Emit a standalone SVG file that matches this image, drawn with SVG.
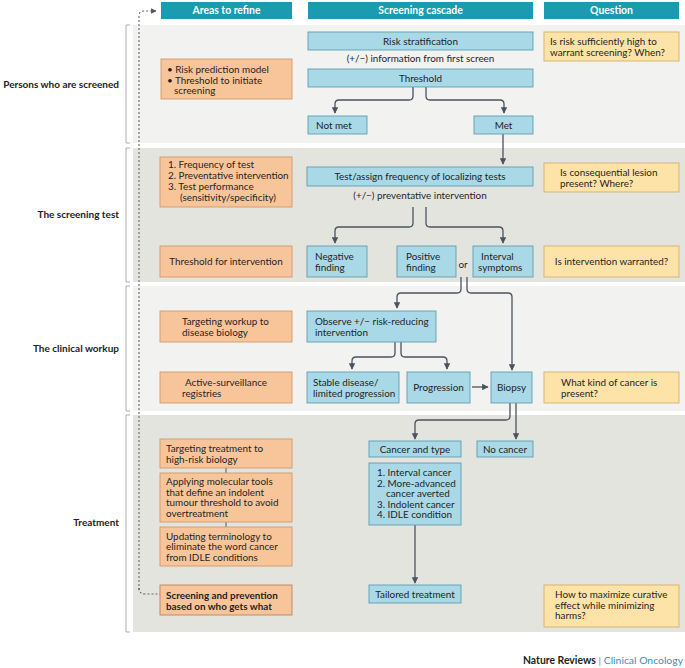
<svg xmlns="http://www.w3.org/2000/svg" width="685" height="668" viewBox="0 0 685 668">
<defs>
<style>
text{font-family:Lato,"Open Sans","Liberation Sans",sans-serif;font-size:9.9px;fill:#1f1f1f}
.hd{fill:#1a9bb1}
.hdt{fill:#fff;font-weight:bold;font-size:10.4px;text-anchor:middle}
.b1{fill:#f2f2f0}
.b2{fill:#e4e4df}
.bl{fill:#a9d8e6;stroke:#5f9db2;stroke-width:0.9}
.or{fill:#f8c59b;stroke:#cf9a6c;stroke-width:0.9}
.ye{fill:#fde3a8;stroke:#d3b16e;stroke-width:0.9}
.c{text-anchor:middle}
.lab{font-weight:bold;font-size:10px;text-anchor:end;fill:#222}
.br{fill:none;stroke:#9a9a9a;stroke-width:0.8}
.cn path,.cn line{fill:none;stroke:#4a5360;stroke-width:1.3}
.dash{fill:none;stroke:#666;stroke-width:1.1;stroke-dasharray:2,2}
</style>
<marker id="ah" viewBox="0 0 10 10" refX="9" refY="5" markerWidth="5" markerHeight="5" orient="auto">
<path d="M0,0 L10,5 L0,10 z" fill="#4a5360"/>
</marker>
<marker id="ahd" viewBox="0 0 10 10" refX="9" refY="5" markerWidth="5" markerHeight="5" orient="auto">
<path d="M0,0 L10,5 L0,10 z" fill="#555"/>
</marker>
</defs>

<!-- bands -->
<g id="bands">
<rect class="b1" x="133" y="25" width="552" height="118"/>
<rect class="b2" x="133" y="148" width="552" height="134"/>
<rect class="b1" x="133" y="286" width="552" height="125"/>
<rect class="b2" x="133" y="415" width="552" height="217"/>
<path class="br" d="M130,25 H126 V143 H130"/>
<path class="br" d="M130,148 H126 V282 H130"/>
<path class="br" d="M130,286 H126 V411 H130"/>
<path class="br" d="M130,415 H126 V632 H130"/>
<text class="lab" x="119" y="87.5">Persons who are screened</text>
<text class="lab" x="119" y="218">The screening test</text>
<text class="lab" x="119" y="352">The clinical workup</text>
<text class="lab" x="119" y="526">Treatment</text>
</g>

<!-- headers -->
<g id="hdr-areas"><rect class="hd" x="161" y="2" width="131" height="17"/><text class="hdt" x="226.5" y="14">Areas to refine</text></g>
<g id="hdr-cascade"><rect class="hd" x="308" y="2" width="225" height="17"/><text class="hdt" x="420.5" y="14">Screening cascade</text></g>
<g id="hdr-question"><rect class="hd" x="544" y="2" width="135" height="17"/><text class="hdt" x="611.5" y="14">Question</text></g>

<!-- connectors -->
<g id="connectors" class="cn">
<path d="M413,87 V96 Q413,100 409,100 H339 Q335,100 335,104 V113" marker-end="url(#ah)"/>
<path d="M426,87 V96 Q426,100 430,100 H500 Q504,100 504,104 V113" marker-end="url(#ah)"/>
<path d="M503,134 V164" marker-end="url(#ah)"/>
<path d="M413,207 V223 Q413,227 409,227 H339 Q335,227 335,231 V243" marker-end="url(#ah)"/>
<path d="M426,207 V223 Q426,227 430,227 H499 Q503,227 503,231 V243" marker-end="url(#ah)"/>
<path d="M461,277 V289 Q461,293 457,293 H401 Q397,293 397,297 V308" marker-end="url(#ah)"/>
<path d="M467,277 V289 Q467,293 471,293 H508 Q512,293 512,297 V370" marker-end="url(#ah)"/>
<path d="M395,342 V353 Q395,357 391,357 H356 Q352,357 352,361 V369" marker-end="url(#ah)"/>
<path d="M401,342 V353 Q401,357 405,357 H443 Q447,357 447,361 V369" marker-end="url(#ah)"/>
<path d="M472,387 H488" marker-end="url(#ah)"/>
<path d="M510,403 V416 Q510,420 506,420 H419 Q415,420 415,424 V439" marker-end="url(#ah)"/>
<path d="M516,403 V439" marker-end="url(#ah)"/>
<path d="M415,525 V583" marker-end="url(#ah)"/>
<line x1="226" y1="468" x2="226" y2="473" style="stroke-width:1"/>
<line x1="226" y1="522" x2="226" y2="527" style="stroke-width:1"/>
<path class="dash" style="stroke:#666;stroke-width:1.1" d="M139,590 V16 Q139,11 144,11 H156" marker-end="url(#ahd)"/>
<path class="dash" style="stroke:#666;stroke-width:1.1" d="M139,588 Q139,594 145,594 H160"/>
</g>

<!-- band 1 -->
<g id="risk-strat"><rect class="bl" x="308" y="32" width="225" height="18"/><text class="c" x="420.5" y="44.5">Risk stratification</text></g>
<g id="info-first"><text class="c" x="420.5" y="62">(+/−) information from first screen</text></g>
<g id="threshold"><rect class="bl" x="308" y="69" width="225" height="18"/><text class="c" x="420.5" y="81.5">Threshold</text></g>
<g id="not-met"><rect class="bl" x="308" y="116" width="59" height="18"/><text x="316" y="128.5">Not met</text></g>
<g id="met"><rect class="bl" x="474" y="116" width="59" height="18"/><text class="c" x="503.5" y="128.5">Met</text></g>
<g id="area-1"><rect class="or" x="161" y="59" width="131" height="40"/>
<text x="167" y="73">• Risk prediction model</text>
<text x="167" y="83.5">• Threshold to initiate</text>
<text x="174" y="94">screening</text></g>
<g id="q-1"><rect class="ye" x="544" y="32" width="135" height="29"/>
<text x="550" y="45">Is risk sufficiently high to</text>
<text x="550" y="56">warrant screening? When?</text></g>

<!-- band 2 -->
<g id="area-2"><rect class="or" x="160" y="157" width="132" height="50"/>
<text x="168" y="168">1. Frequency of test</text>
<text x="168" y="179">2. Preventative intervention</text>
<text x="168" y="190">3. Test performance</text>
<text x="180" y="201">(sensitivity/specificity)</text></g>
<g id="test-assign"><rect class="bl" x="307" y="167" width="226" height="19"/><text class="c" x="420" y="180">Test/assign frequency of localizing tests</text></g>
<g id="prev-int"><text class="c" x="420" y="199">(+/−) preventative intervention</text></g>
<g id="q-2"><rect class="ye" x="544" y="163" width="135" height="29"/>
<text x="560" y="176">Is consequential lesion</text>
<text x="560" y="187">present? Where?</text></g>
<g id="area-3"><rect class="or" x="160" y="246" width="132" height="31"/><text class="c" x="226" y="264.5">Threshold for intervention</text></g>
<g id="neg"><rect class="bl" x="307" y="246" width="60" height="31"/><text x="315" y="259.5">Negative</text><text x="315" y="270.5">finding</text></g>
<g id="pos"><rect class="bl" x="397" y="246" width="59" height="31"/><text x="406" y="259.5">Positive</text><text x="406" y="270.5">finding</text></g>
<text class="c" x="463" y="268">or</text>
<g id="interval"><rect class="bl" x="473" y="246" width="60" height="31"/><text x="481" y="259.5">Interval</text><text x="478" y="270.5">symptoms</text></g>
<g id="q-3"><rect class="ye" x="544" y="246" width="135" height="31"/><text class="c" x="611.5" y="264.5">Is intervention warranted?</text></g>

<!-- band 3 -->
<g id="area-4"><rect class="or" x="160" y="311" width="132" height="31"/><text x="182" y="324.5">Targeting workup to</text><text x="182" y="335.5">disease biology</text></g>
<g id="observe"><rect class="bl" x="307" y="311" width="129" height="31"/><text x="315" y="324.5">Observe +/− risk-reducing</text><text x="315" y="335.5">intervention</text></g>
<g id="area-5"><rect class="or" x="160" y="372" width="132" height="31"/><text x="185" y="385.5">Active-surveillance</text><text x="182" y="396.5">registries</text></g>
<g id="stable"><rect class="bl" x="307" y="372" width="92" height="31"/><text x="313" y="385.5">Stable disease/</text><text x="313" y="396.5">limited progression</text></g>
<g id="progression"><rect class="bl" x="407" y="372" width="63" height="31"/><text class="c" x="438.5" y="390.5">Progression</text></g>
<g id="biopsy"><rect class="bl" x="491" y="372" width="41" height="31"/><text class="c" x="511.5" y="390.5">Biopsy</text></g>
<g id="q-4"><rect class="ye" x="544" y="372" width="135" height="31"/><text x="561" y="385.5">What kind of cancer is</text><text x="561" y="396.5">present?</text></g>

<!-- band 4 -->
<g id="area-6"><rect class="or" x="160" y="439" width="132" height="29"/><text x="166" y="451.5">Targeting treatment to</text><text x="166" y="462.5">high-risk biology</text></g>
<g id="area-7"><rect class="or" x="160" y="473" width="132" height="49"/>
<text x="166" y="485">Applying molecular tools</text>
<text x="166" y="495.5">that define an indolent</text>
<text x="166" y="506">tumour threshold to avoid</text>
<text x="166" y="516.5">overtreatment</text></g>
<g id="area-8"><rect class="or" x="160" y="527" width="132" height="39"/>
<text x="166" y="539.5">Updating terminology to</text>
<text x="166" y="550">eliminate the word cancer</text>
<text x="166" y="560.5">from IDLE conditions</text></g>
<g id="area-9"><rect class="or" x="160" y="585" width="132" height="30" style="stroke:#b8865a"/>
<text x="166" y="598.5" style="font-weight:bold">Screening and prevention</text>
<text x="166" y="609.5" style="font-weight:bold">based on who gets what</text></g>
<g id="cancer-type"><rect class="bl" x="369" y="441" width="92" height="16"/><text class="c" x="415" y="452.5">Cancer and type</text></g>
<g id="no-cancer"><rect class="bl" x="477" y="441" width="56" height="16"/><text class="c" x="505" y="452.5">No cancer</text></g>
<g id="cancer-list"><rect class="bl" x="369" y="463" width="92" height="62"/>
<text x="377" y="476">1. Interval cancer</text>
<text x="377" y="486.5">2. More-advanced</text>
<text x="386" y="497">cancer averted</text>
<text x="377" y="507.5">3. Indolent cancer</text>
<text x="377" y="518">4. IDLE condition</text></g>
<g id="tailored"><rect class="bl" x="369" y="585" width="92" height="18"/><text class="c" x="415" y="597.5">Tailored treatment</text></g>
<g id="q-5"><rect class="ye" x="544" y="585" width="135" height="42"/>
<text x="555" y="598">How to maximize curative</text>
<text x="555" y="608.5">effect while minimizing</text>
<text x="555" y="619">harms?</text></g>

<g id="footer"><text x="683" y="664" style="text-anchor:end;font-size:10.4px"><tspan style="font-weight:bold;fill:#222">Nature Reviews</tspan><tspan style="fill:#888"> | </tspan><tspan style="fill:#3a8fb0">Clinical Oncology</tspan></text></g>
</svg>
